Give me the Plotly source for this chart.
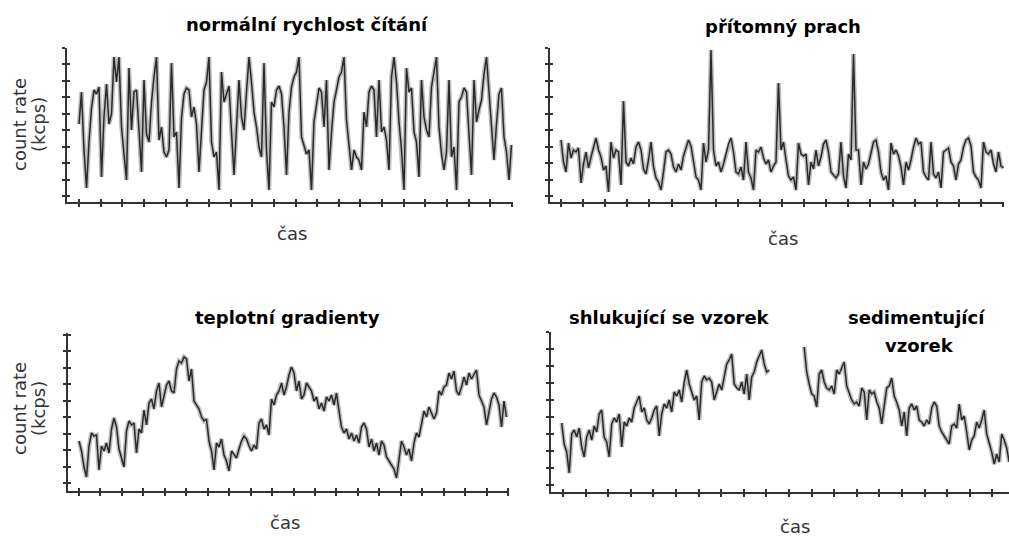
import plotly.graph_objects as go

# ---------------- data (count rate, arbitrary kcps units; one value per time sample) ----------------
normal_rate = [78, 110, 52, 14, 60, 94, 112, 108, 115, 25, 85, 118, 78, 88, 145, 120, 145, 75, 48, 22,
               134, 72, 110, 112, 72, 30, 122, 68, 60, 100, 125, 145, 62, 75, 50, 45, 52, 139, 65, 70,
               14, 84, 108, 114, 112, 85, 95, 78, 30, 72, 112, 120, 145, 60, 45, 50, 12, 130, 100, 108,
               116, 70, 27, 75, 122, 85, 72, 110, 145, 120, 90, 75, 55, 45, 139, 52, 12, 100, 95, 112,
               116, 108, 75, 27, 90, 115, 125, 130, 145, 65, 55, 48, 52, 12, 80, 100, 114, 110, 75, 122,
               32, 70, 100, 112, 125, 130, 145, 82, 60, 32, 52, 45, 42, 32, 90, 75, 110, 116, 112, 65,
               122, 70, 75, 62, 32, 125, 145, 120, 80, 52, 12, 134, 110, 114, 70, 60, 25, 122, 85, 72,
               65, 115, 130, 145, 75, 48, 32, 50, 122, 45, 55, 12, 100, 105, 114, 110, 68, 27, 122, 80,
               92, 102, 128, 145, 110, 70, 42, 78, 108, 114, 65, 50, 22, 57]

dust_rate = [62, 40, 30, 59, 44, 52, 50, 54, 19, 38, 50, 34, 45, 55, 64, 52, 45, 32, 36, 10,
             60, 44, 52, 50, 17, 101, 40, 36, 44, 38, 55, 60, 52, 33, 28, 42, 60, 35, 24, 20,
             12, 30, 50, 52, 48, 35, 30, 38, 32, 46, 55, 62, 56, 40, 25, 22, 12, 59, 40, 52,
             152, 52, 36, 40, 30, 38, 48, 58, 64, 50, 30, 28, 35, 22, 60, 30, 24, 12, 52, 50,
             55, 44, 38, 42, 30, 36, 40, 119, 52, 60, 42, 26, 22, 25, 12, 59, 48, 46, 48, 17,
             40, 33, 52, 36, 45, 58, 62, 50, 30, 27, 24, 28, 60, 26, 14, 48, 42, 148, 52, 52,
             17, 40, 33, 38, 48, 60, 62, 50, 30, 22, 26, 12, 59, 48, 52, 46, 35, 17, 40, 32,
             42, 55, 64, 58, 60, 30, 25, 22, 60, 28, 24, 30, 14, 50, 52, 54, 40, 36, 22, 38,
             42, 55, 62, 64, 56, 30, 25, 22, 14, 60, 50, 48, 52, 38, 30, 50, 36, 34]

gradient_rate = [50, 40, 24, 14, 45, 58, 55, 56, 21, 45, 40, 48, 38, 62, 73, 64, 42, 32, 24, 60,
                 70, 66, 68, 38, 62, 58, 81, 66, 88, 92, 82, 100, 108, 84, 96, 106, 110, 100, 98, 122,
                 130, 128, 134, 132, 110, 122, 90, 86, 82, 74, 70, 72, 50, 40, 21, 48, 44, 52, 36, 30,
                 20, 40, 36, 33, 42, 50, 55, 52, 45, 40, 46, 42, 68, 72, 62, 66, 56, 92, 86, 96,
                 100, 108, 96, 104, 116, 124, 118, 100, 110, 92, 96, 108, 104, 100, 90, 94, 82, 88, 80, 94,
                 90, 96, 86, 98, 80, 64, 58, 62, 52, 58, 50, 56, 48, 64, 68, 62, 44, 52, 40, 48,
                 36, 50, 46, 34, 30, 26, 22, 13, 30, 50, 44, 36, 42, 30, 48, 58, 54, 66, 80, 74,
                 84, 78, 72, 78, 100, 96, 104, 106, 118, 112, 120, 100, 96, 104, 114, 106, 118, 112, 116, 121,
                 96, 90, 84, 66, 78, 92, 98, 94, 86, 64, 90, 74]

aggregating_rate = [69, 48, 40, 19, 58, 62, 55, 64, 45, 35, 55, 62, 52, 66, 60, 78, 82, 55, 50, 35,
                    68, 74, 70, 78, 45, 70, 66, 74, 70, 84, 90, 96, 80, 84, 72, 68, 74, 82, 86, 56,
                    78, 88, 84, 92, 80, 100, 96, 102, 90, 110, 122, 108, 100, 92, 96, 72, 110, 116, 112, 114,
                    110, 92, 100, 108, 102, 116, 128, 132, 138, 108, 104, 102, 110, 98, 118, 92, 115, 120, 130, 136,
                    142, 128, 120, 122]

sedimenting_rate = [145, 120, 108, 98, 96, 85, 118, 122, 110, 104, 102, 106, 98, 122, 118, 124, 130, 106, 98, 92,
                    88, 90, 86, 104, 100, 72, 102, 98, 100, 90, 84, 68, 86, 104, 106, 114, 96, 90, 82, 66,
                    80, 56, 84, 88, 82, 86, 72, 70, 66, 72, 68, 84, 90, 86, 66, 60, 56, 52, 48, 66,
                    68, 64, 88, 72, 76, 60, 42, 52, 56, 70, 64, 72, 82, 58, 50, 40, 28, 38, 30, 58,
                    52, 44, 30]

gap_samples = 13  # no measurement between the two sample runs
sample_rate = aggregating_rate + [None] * gap_samples + sedimenting_rate

titles = ["normální rychlost čítání", "přítomný prach", "teplotní gradienty", "shlukující se vzorek"]
extra_title = ["sedimentující", "vzorek"]
x_label = "čas"
y_label_1 = "count rate"
y_label_2 = "(kcps)"

# ---------------- layout geometry (pixels) ----------------
W, H = 1009, 538
STEP = 2.5  # px per sample

panels = [
    dict(vals=normal_rate, left=67, right=513, top=48, bottom=202, x0=79, xt0=79, xsp=21.65, yt0=6, ysp=16.44),
    dict(vals=dust_rate, left=550, right=1004, top=48, bottom=202, x0=561, xt0=561, xsp=22.1, yt0=6, ysp=16.44),
    dict(vals=gradient_rate, left=68, right=509, top=333, bottom=491, x0=79, xt0=79, xsp=21.45, yt0=8, ysp=16.44),
    dict(vals=sample_rate, left=551, right=1009, top=332, bottom=492, x0=561.7, xt0=563, xsp=22.6, yt0=7, ysp=17.0),
]

AX = "#333333"
fig = go.Figure()
layout = dict(width=W, height=H, margin=dict(l=0, r=0, t=0, b=0),
              paper_bgcolor="white", plot_bgcolor="white", showlegend=False)

for k, p in enumerate(panels, start=1):
    n = len(p["vals"])
    xs = list(range(n))
    sx = "" if k == 1 else str(k)
    ko = k + 4
    xr = [(p["left"] - p["x0"]) / STEP, (p["right"] - p["x0"]) / STEP]
    yr = [0, p["bottom"] - p["top"]]
    xdom = [p["left"] / W, p["right"] / W]
    ydom = [1 - p["bottom"] / H, 1 - p["top"] / H]
    xt0 = (p["xt0"] - p["x0"]) / STEP
    xdt = p["xsp"] / STEP

    fig.add_trace(go.Scatter(x=xs, y=p["vals"], mode="lines", xaxis="x" + sx, yaxis="y" + sx,
                             line=dict(color="#bdbdbd", width=4.5), hoverinfo="skip", connectgaps=False))
    fig.add_trace(go.Scatter(x=xs, y=p["vals"], mode="lines", xaxis="x" + sx, yaxis="y" + sx,
                             line=dict(color="#2a2a2a", width=1.5), connectgaps=False))
    fig.add_trace(go.Scatter(x=[], y=[], xaxis="x" + str(ko), yaxis="y" + str(ko)))

    common = dict(showgrid=False, zeroline=False, showticklabels=False, fixedrange=True)
    layout["xaxis" + sx] = dict(domain=xdom, range=xr, anchor="y" + sx, showline=True, linecolor=AX,
                                linewidth=2, ticks="outside", ticklen=3, tickwidth=2, tickcolor=AX,
                                tickmode="linear", tick0=xt0, dtick=xdt, **common)
    layout["yaxis" + sx] = dict(domain=ydom, range=yr, anchor="x" + sx, showline=True, linecolor=AX,
                                linewidth=2, ticks="outside", ticklen=3, tickwidth=2, tickcolor=AX,
                                tickmode="linear", tick0=p["yt0"], dtick=p["ysp"], **common)
    layout["xaxis" + str(ko)] = dict(overlaying="x" + sx, anchor="y" + str(ko), range=xr, showline=False,
                                     ticks="inside", ticklen=3, tickwidth=2, tickcolor=AX,
                                     tickmode="linear", tick0=xt0, dtick=xdt, **common)
    layout["yaxis" + str(ko)] = dict(overlaying="y" + sx, anchor="x" + str(ko), range=yr, showline=False,
                                     ticks="inside", ticklen=3, tickwidth=2, tickcolor=AX,
                                     tickmode="linear", tick0=p["yt0"], dtick=p["ysp"], **common)

fig.update_layout(**layout)

TFONT = dict(family="DejaVu Sans", size=18, color="#000000")
LFONT = dict(family="DejaVu Sans", size=18, color="#333333")


def ann(text, px, py, font, angle=0):
    fig.add_annotation(text=text, x=px / W, y=1 - py / H, xref="paper", yref="paper",
                       showarrow=False, font=font, textangle=angle, xanchor="center", yanchor="middle")


B = lambda s: "<b>" + s + "</b>"
ann(B(titles[0]), 307, 24, TFONT)
ann(B(titles[1]), 783, 27, TFONT)
ann(B(titles[2]), 287, 317, TFONT)
ann(B(titles[3]), 669, 317, TFONT)
ann(B(extra_title[0]), 916, 317, TFONT)
ann(B(extra_title[1]), 919, 345, TFONT)

for cx, cy in [(292, 233), (783, 238), (285, 522), (795, 526)]:
    ann(x_label, cx, cy, LFONT)

for cy in (125, 409):
    ann(y_label_1, 19, cy, LFONT, -90)
    ann(y_label_2, 38, cy, LFONT, -90)

fig.write_html("out.html", config={"displayModeBar": False},
               post_script="document.body.style.margin='0';document.body.style.overflow='hidden';")
